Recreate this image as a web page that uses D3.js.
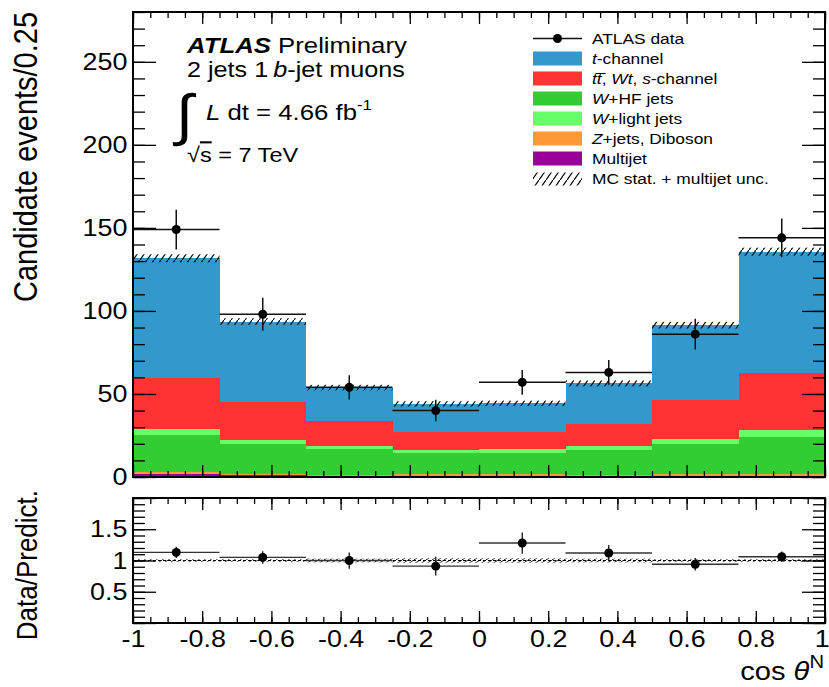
<!DOCTYPE html>
<html><head><meta charset="utf-8">
<script src="https://cdn.jsdelivr.net/npm/d3@7"></script>
<style>
body{margin:0;background:#fff}
svg{display:block}
text{font-family:"Liberation Sans",Arial,Helvetica,sans-serif;fill:#000}
</style>
</head><body>
<svg id="c" width="829" height="687"></svg>
<script>
// ---------------- data ----------------
const binLow   = [-1, -0.75, -0.5, -0.25, 0, 0.25, 0.5, 0.75];
const binWidth = 0.25;
const multijet = [1.8, 1.0, 0.5, 0.5, 0.5, 0.5, 0.7, 0.8];
const zjetsDiboson = [1.0, 1.0, 1.0, 1.2, 1.2, 1.0, 1.0, 1.2];
const wHF     = [22.2, 17.7, 15.4, 12.9, 12.9, 14.8, 18.2, 21.9];
const wLight  = [3.7, 2.6, 1.8, 1.7, 2.3, 2.4, 3.0, 4.4];
const topBkg  = [31.1, 23.1, 15.0, 10.9, 10.4, 13.5, 23.3, 34.5];
const tChannel= [71.9, 48.2, 20.1, 16.8, 17.1, 24.2, 45.2, 72.9];
const mcUnc   = [2.4, 2.0, 1.7, 1.6, 1.6, 1.8, 2.0, 2.4];
const dataVals = [149, 98, 54, 40, 57, 63, 86, 144];
const dataErr  = [12, 10, 7.3, 6.5, 7.5, 7.5, 9.3, 11.7];
const ratioVals = [1.13, 1.05, 1.0, 0.91, 1.28, 1.12, 0.94, 1.06];
const ratioErr  = [0.09, 0.10, 0.13, 0.15, 0.17, 0.13, 0.10, 0.085];
const ratioUnc  = [0.02, 0.02, 0.03, 0.035, 0.035, 0.03, 0.02, 0.02];
const xTickLabels = [-1, -0.8, -0.6, -0.4, -0.2, 0, 0.2, 0.4, 0.6, 0.8, 1];
const yTickLabels = [0, 50, 100, 150, 200, 250];
const rTickLabels = [0.5, 1, 1.5];

const keys   = ["multijet","zjets","whf","wlight","top","tchan"];
const colors = {multijet:"#990099", zjets:"#ff9933", whf:"#33cc33", wlight:"#66ff66", top:"#ff3333", tchan:"#3399cc"};
const legendItems = [
  {key:"tchan",   parts:[["t",1],["-channel",0]]},
  {key:"top",     parts:[["t",1],["t\u0305",1],[", ",0],["Wt",1],[", ",0],["s",1],["-channel",0]]},
  {key:"whf",     parts:[["W",1],["+HF jets",0]]},
  {key:"wlight",  parts:[["W",1],["+light jets",0]]},
  {key:"zjets",   parts:[["Z",1],["+jets, Diboson",0]]},
  {key:"multijet",parts:[["Multijet",0]]}
];

// ---------------- setup ----------------
const SX = 1.12; // horizontal text stretch
const svg = d3.select("#c");
const x  = d3.scaleLinear().domain([-1, 1]).range([133, 825]);
const y  = d3.scaleLinear().domain([0, 280]).range([477, 12]);
const yr = d3.scaleLinear().domain([0, 2]).range([623, 498]);

const table = binLow.map((lo,i)=>({lo, multijet:multijet[i], zjets:zjetsDiboson[i], whf:wHF[i], wlight:wLight[i], top:topBkg[i], tchan:tChannel[i]}));
const stacked = d3.stack().keys(keys)(table);
const totals = table.map(d=>keys.reduce((s,k)=>s+d[k],0));

const defs = svg.append("defs");
const pat = defs.append("pattern").attr("id","hatch").attr("patternUnits","userSpaceOnUse")
  .attr("width",7).attr("height",10);
pat.append("line").attr("x1",0).attr("y1",10).attr("x2",7).attr("y2",0)
  .attr("stroke","#000").attr("stroke-width",1.2);
const pat2 = defs.append("pattern").attr("id","hatch2").attr("patternUnits","userSpaceOnUse")
  .attr("width",6).attr("height",4);
pat2.append("line").attr("x1",0).attr("y1",4).attr("x2",6).attr("y2",0)
  .attr("stroke","#000").attr("stroke-width",0.9);
defs.append("clipPath").attr("id","clipMain").append("rect").attr("x",133).attr("y",12).attr("width",692).attr("height",465);
defs.append("clipPath").attr("id","clipRatio").append("rect").attr("x",133).attr("y",498).attr("width",692).attr("height",125);

function stext(parent, px, py, opts={}){
  const g = parent.append("g").attr("transform",`translate(${px},${py}) scale(${SX},1)${opts.rotate?` rotate(${opts.rotate})`:""}`);
  const t = g.append("text").attr("font-size",opts.size||20).attr("text-anchor",opts.anchor||"start");
  return t;
}
function addParts(t, parts){
  parts.forEach(([s,it,extra])=>{
    const ts = t.append("tspan").text(s);
    if(it) ts.attr("font-style","italic");
    if(extra) extra(ts);
  });
}

// ---------------- main panel ----------------
const main = svg.append("g").attr("clip-path","url(#clipMain)");
stacked.forEach(layer=>{
  main.append("g").selectAll("rect").data(layer).join("rect")
    .attr("x",d=>x(d.data.lo)).attr("width",d=>x(d.data.lo+binWidth)-x(d.data.lo))
    .attr("y",d=>y(d[1])).attr("height",d=>Math.max(0,y(d[0])-y(d[1])))
    .attr("fill",colors[layer.key]).attr("shape-rendering","crispEdges");
});
// MC uncertainty band
main.append("g").selectAll("rect").data(binLow).join("rect")
  .attr("x",(d)=>x(d)).attr("width",d=>x(d+binWidth)-x(d))
  .attr("y",(d,i)=>y(totals[i]+mcUnc[i])).attr("height",(d,i)=>y(totals[i]-mcUnc[i])-y(totals[i]+mcUnc[i]))
  .attr("fill","url(#hatch)");
// data
const dg = main.append("g").attr("stroke","#111").attr("stroke-width",1.5);
binLow.forEach((lo,i)=>{
  const cx = x(lo+binWidth/2);
  dg.append("line").attr("x1",x(lo)).attr("x2",x(lo+binWidth)).attr("y1",y(dataVals[i])).attr("y2",y(dataVals[i]));
  dg.append("line").attr("x1",cx).attr("x2",cx).attr("y1",y(dataVals[i]-dataErr[i])).attr("y2",y(dataVals[i]+dataErr[i]));
  dg.append("circle").attr("cx",cx).attr("cy",y(dataVals[i])).attr("r",4.5).attr("fill","#000").attr("stroke","none");
});

// ---------------- ratio panel ----------------
const rat = svg.append("g").attr("clip-path","url(#clipRatio)");
rat.append("g").selectAll("rect").data(binLow).join("rect")
  .attr("x",d=>x(d)).attr("width",d=>x(d+binWidth)-x(d))
  .attr("y",(d,i)=>yr(1+ratioUnc[i])).attr("height",(d,i)=>yr(1-ratioUnc[i])-yr(1+ratioUnc[i]))
  .attr("fill","url(#hatch2)");
rat.append("line").attr("x1",x(-1)).attr("x2",x(1)).attr("y1",yr(1)).attr("y2",yr(1))
  .attr("stroke","#000").attr("stroke-width",1).attr("stroke-dasharray","3,2");
const rg = rat.append("g").attr("stroke","#111").attr("stroke-width",1.3);
binLow.forEach((lo,i)=>{
  const cx = x(lo+binWidth/2);
  rg.append("line").attr("x1",x(lo)).attr("x2",x(lo+binWidth)).attr("y1",yr(ratioVals[i])).attr("y2",yr(ratioVals[i])).attr("stroke","#333");
  rg.append("line").attr("x1",cx).attr("x2",cx).attr("y1",yr(ratioVals[i]-ratioErr[i])).attr("y2",yr(ratioVals[i]+ratioErr[i]));
  rg.append("circle").attr("cx",cx).attr("cy",yr(ratioVals[i])).attr("r",4.5).attr("fill","#000").attr("stroke","none");
});

// ---------------- axes ----------------
const xMinor = d3.range(-20,21).map(i=>i*0.05);
function ticks(gen, tr, vals, size){
  const g = svg.append("g").attr("transform",tr)
    .call(gen.tickValues(vals).tickSize(size).tickFormat(""));
  g.select(".domain").remove();
  g.selectAll("line").attr("stroke","#000").attr("stroke-width",1.3);
  return g;
}
function panelAxes(ys, yMaj, yMin, top, bottom, left, right){
  ticks(d3.axisBottom(x), `translate(0,${bottom})`, xTickLabels, -12);
  ticks(d3.axisBottom(x), `translate(0,${bottom})`, xMinor, -6);
  ticks(d3.axisTop(x), `translate(0,${top})`, xTickLabels, -12);
  ticks(d3.axisTop(x), `translate(0,${top})`, xMinor, -6);
  ticks(d3.axisLeft(ys), `translate(${left},0)`, yMaj, -23);
  ticks(d3.axisLeft(ys), `translate(${left},0)`, yMin, -12);
  ticks(d3.axisRight(ys), `translate(${right},0)`, yMaj, -23);
  ticks(d3.axisRight(ys), `translate(${right},0)`, yMin, -12);
  svg.append("rect").attr("x",left).attr("y",top).attr("width",right-left).attr("height",bottom-top)
    .attr("fill","none").attr("stroke","#000").attr("stroke-width",2);
}
panelAxes(y, yTickLabels, d3.range(0,281,10), 12, 477, 133, 825);
panelAxes(yr, [0,0.5,1,1.5,2], d3.range(0,21).map(i=>i/10), 498, 623, 133, 825);

// tick labels via axes
function labelAxis(gen, tr, vals, fmt, pad){
  const g = svg.append("g").attr("transform",tr)
    .call(gen.tickValues(vals).tickSize(0).tickPadding(pad).tickFormat(fmt));
  g.select(".domain").remove();
  g.selectAll("line").remove();
  g.selectAll("text").attr("font-size",24).attr("font-family",null).attr("fill","#000")
    .attr("transform",`scale(${SX},1)`);
  g.attr("font-family",null);
  return g;
}
const fmt = d => String(+(+d).toFixed(2));
labelAxis(d3.axisLeft(y), "translate(133,0)", yTickLabels, fmt, 5);
labelAxis(d3.axisLeft(yr), "translate(133,0)", rTickLabels, fmt, 5);
const xl = labelAxis(d3.axisBottom(x), "translate(0,623)", xTickLabels, fmt, 7);
xl.selectAll(".tick").filter(d=>d===1).select("text").attr("x",-3);

// axis titles
stext(svg, 37, 12, {size:29, anchor:"end", rotate:-90}).text("Candidate events/0.25");
stext(svg, 37, 490, {size:26, anchor:"end", rotate:-90}).text("Data/Predict.");
{
  const t = stext(svg, 824, 680, {size:26, anchor:"end"});
  addParts(t, [["cos ",0],["\u03b8",1],["N",0,ts=>ts.attr("font-size",18).attr("dy",-12)]]);
}

// ---------------- labels ----------------
{
  const t = stext(svg, 187, 53, {size:23});
  t.append("tspan").text("ATLAS").attr("font-weight","bold").attr("font-style","italic");
  t.append("tspan").text(" Preliminary");
  const t2 = stext(svg, 187, 77, {size:22.5});
  addParts(t2, [["2 jets 1\u2009",0],["b",1],["-jet muons",0]]);
  stext(svg, 176, 134, {size:56}).text("\u222b").attr("font-family","'DejaVu Sans', sans-serif")
    .attr("font-style","italic");
  const t3 = stext(svg, 206, 120, {size:23});
  addParts(t3, [["L",1],[" dt = 4.66 fb",0],["-1",0,ts=>ts.attr("font-size",15).attr("dy",-10)]]);
  const t4 = stext(svg, 187, 162, {size:21});
  t4.append("tspan").text("\u221a").attr("font-size",21);
  t4.append("tspan").text("s").attr("text-decoration","overline");
  t4.append("tspan").text(" = 7 TeV");
}

// ---------------- legend ----------------
const leg = svg.append("g");
const rowY = i => 38.5 + 20*i;
// data entry
leg.append("line").attr("x1",533).attr("x2",582).attr("y1",rowY(0)).attr("y2",rowY(0)).attr("stroke","#111").attr("stroke-width",1.5);
leg.append("circle").attr("cx",557.5).attr("cy",rowY(0)).attr("r",4.5).attr("fill","#000");
stext(leg, 592, rowY(0)+5.5, {size:15.5}).text("ATLAS data");
legendItems.forEach((it,j)=>{
  const i=j+1;
  leg.append("rect").attr("x",533).attr("y",rowY(i)-7).attr("width",49).attr("height",14).attr("fill",colors[it.key]);
  addParts(stext(leg, 592, rowY(i)+5.5, {size:15.5}), it.parts);
});
leg.append("rect").attr("x",533).attr("y",rowY(7)-6).attr("width",49).attr("height",13).attr("fill","url(#hatch)");
stext(leg, 592, rowY(7)+5.5, {size:15.5}).text("MC stat. + multijet unc.");
</script>
</body></html>
